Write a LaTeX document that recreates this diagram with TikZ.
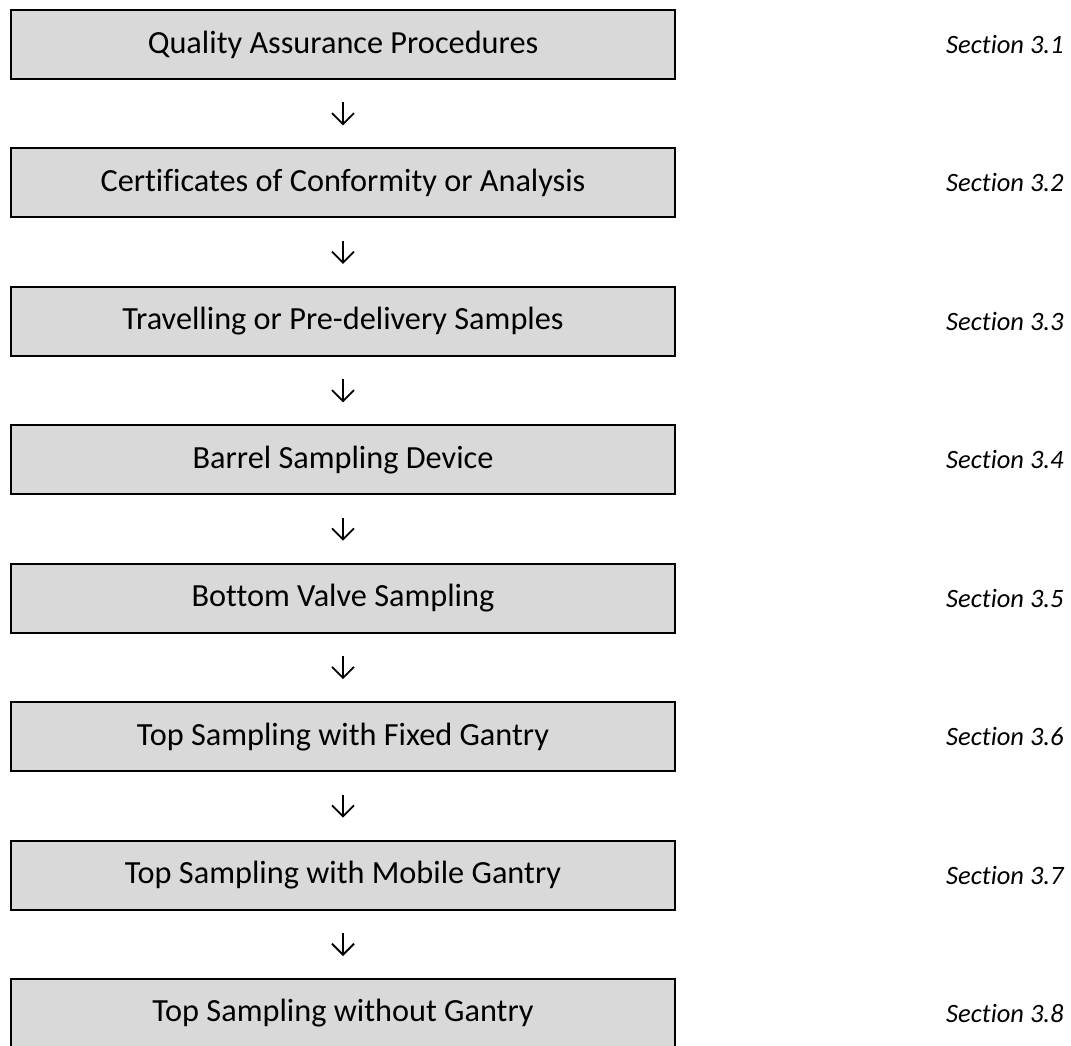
\documentclass[tikz,border=0pt]{standalone}
\usepackage{fontspec}
\setmainfont{Carlito}[Ligatures=NoCommon]
\usetikzlibrary{arrows.meta}
\definecolor{boxgray}{HTML}{D9D9D9}
\begin{document}
\begin{tikzpicture}[x=1pt,y=-1pt,
  stage/.style={draw=black, line width=2pt, fill=boxgray, minimum width=664pt, minimum height=69pt, inner sep=0pt, font=\fontsize{32.3}{38}\selectfont},
  sect/.style={anchor=west, inner sep=0pt, font=\fontsize{26.5}{31}\selectfont\itshape},
  flow/.style={line width=1.8pt, -{Straight Barb[length=11pt,width=22pt,line width=1.8pt]}}]
\useasboundingbox (0,0) rectangle (1071,1046);
\node[stage] (b1) at (343,44.5) {Quality Assurance Procedures};
\node[stage] (b2) at (343,182.9) {Certificates of Conformity or Analysis};
\node[stage] (b3) at (343,321.4) {Travelling or Pre-delivery Samples};
\node[stage] (b4) at (343,459.8) {Barrel Sampling Device};
\node[stage] (b5) at (343,598.2) {Bottom Valve Sampling};
\node[stage] (b6) at (343,736.7) {Top Sampling with Fixed Gantry};
\node[stage] (b7) at (343,875.1) {Top Sampling with Mobile Gantry};
\node[stage] (b8) at (343,1013.5) {Top Sampling without Gantry};
\node[sect] (s1) at (946,44.5) {Section 3.1};
\node[sect] (s2) at (946,182.9) {Section 3.2};
\node[sect] (s3) at (946,321.4) {Section 3.3};
\node[sect] (s4) at (946,459.8) {Section 3.4};
\node[sect] (s5) at (946,598.2) {Section 3.5};
\node[sect] (s6) at (946,736.7) {Section 3.6};
\node[sect] (s7) at (946,875.1) {Section 3.7};
\node[sect] (s8) at (946,1013.5) {Section 3.8};
\foreach \a/\b in {b1/b2,b2/b3,b3/b4,b4/b5,b5/b6,b6/b7,b7/b8}
  \draw[flow] ([yshift=-22.5pt]\a.south) -- ([yshift=22pt]\b.north);
\end{tikzpicture}
\end{document}
